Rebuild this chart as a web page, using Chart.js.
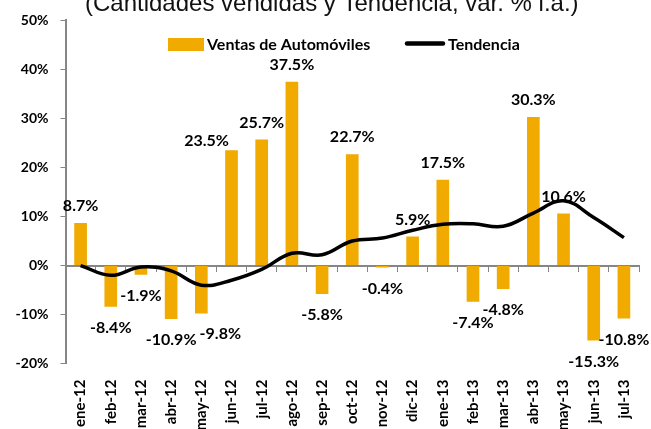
<!DOCTYPE html>
<html>
<head>
<meta charset="utf-8">
<script src="https://cdn.jsdelivr.net/npm/chart.js@4.4.1/dist/chart.umd.min.js"></script>
<style>
  html, body { margin: 0; padding: 0; background: #fff; }
  #wrap { width: 651px; height: 429px; position: relative; }
</style>
</head>
<body>
<div id="wrap"><canvas id="myChart"></canvas></div>
<script>
// datos
const meses = ["ene-12", "feb-12", "mar-12", "abr-12", "may-12", "jun-12", "jul-12", "ago-12", "sep-12", "oct-12",
    "nov-12", "dic-12", "ene-13", "feb-13", "mar-13", "abr-13", "may-13", "jun-13", "jul-13"];
const ventas = [8.7, -8.4, -1.9, -10.9, -9.8, 23.5, 25.7, 37.5, -5.8, 22.7, -0.4, 5.9, 17.5, -7.4, -4.8, 30.3, 10.6, -15.3, -10.8];
const tendencia = [0.0, -2.0, -0.3, -1.1, -4.0, -3.0, -0.8, 2.5, 2.2, 5.0, 5.6, 7.2, 8.4, 8.5, 8.0, 10.7, 13.2, 9.8, 5.7];
const yTicks = [-20, -10, 0, 10, 20, 30, 40, 50];

const naranja = '#F0AA00';
const gris = '#868686';

// pequeños ajustes de posicion de etiquetas (como en el original)
const ajustes = { 4: [19, -1], 5: [-25, 8] };

const titulo = {
    id: 'titulo',
    afterDraw(chart) {
        const ctx = chart.ctx;
        ctx.save();
        ctx.font = '24px "Liberation Sans", Arial, sans-serif';
        ctx.fillStyle = '#111';
        ctx.textAlign = 'left';
        ctx.textBaseline = 'alphabetic';
        ctx.fillText('(Cantidades vendidas y Tendencia, var. % i.a.)', 85, 11);
        ctx.restore();
    }
};

const leyenda = {
    id: 'leyenda',
    afterDraw(chart) {
        const ctx = chart.ctx;
        ctx.save();
        ctx.fillStyle = naranja;
        ctx.fillRect(168, 38, 36, 13);
        ctx.strokeStyle = '#000';
        ctx.lineWidth = 4.5;
        ctx.lineCap = 'round';
        ctx.beginPath();
        ctx.moveTo(407, 43.5);
        ctx.lineTo(443, 43.5);
        ctx.stroke();
        ctx.font = 'bold 16px Lato';
        ctx.fillStyle = '#000';
        ctx.textBaseline = 'middle';
        ctx.fillText(chart.data.datasets[0].label, 207, 44.5);
        ctx.fillText(chart.data.datasets[1].label, 448, 44.5);
        ctx.restore();
    }
};

const etiquetas = {
    id: 'etiquetas',
    afterDatasetsDraw(chart) {
        const meta = chart.getDatasetMeta(0);
        const ctx = chart.ctx;
        ctx.save();
        ctx.font = 'bold 16px Lato';
        ctx.fillStyle = '#000';
        ctx.textAlign = 'center';
        ctx.textBaseline = 'middle';
        meta.data.forEach((bar, i) => {
            const v = ventas[i];
            const n = ajustes[i] || [0, 0];
            const y = v >= 0 ? bar.y - 17 : bar.y + 21;
            ctx.fillText(v.toFixed(1) + '%', bar.x + n[0], y + n[1]);
        });
        ctx.restore();
    }
};

const ctx = document.getElementById('myChart');
new Chart(ctx, {
    data: {
        labels: meses,
        datasets: [
            {
                type: 'bar',
                label: 'Ventas de Automóviles',
                data: ventas,
                backgroundColor: naranja,
                barPercentage: 0.42,
                categoryPercentage: 1,
                order: 1
            },
            {
                type: 'line',
                label: 'Tendencia',
                data: tendencia,
                borderColor: '#000',
                borderWidth: 3.5,
                pointRadius: 0,
                tension: 0.4,
                fill: false,
                order: 0
            }
        ]
    },
    options: {
        responsive: true,
        maintainAspectRatio: false,
        animation: false,
        layout: { padding: { top: 18.5, right: 12, left: 0, bottom: 0 } },
        plugins: {
            legend: { display: false },
            title: { display: false },
            tooltip: { enabled: false }
        },
        scales: {
            x: {
                type: 'category',
                offset: true,
                grid: { display: false },
                border: { display: false },
                ticks: {
                    color: '#000',
                    font: { family: 'Lato', size: 15, weight: 'bold' },
                    minRotation: 90,
                    maxRotation: 90,
                    autoSkip: false,
                    padding: 8
                },
                afterFit(scale) { scale.height = 65.4; }
            },
            x2: {
                type: 'category',
                axis: 'x',
                labels: meses,
                position: { y: 0 },
                offset: true,
                grid: { offset: true, drawOnChartArea: false, tickLength: 5, color: gris, lineWidth: 1 },
                border: { color: gris, width: 2 },
                ticks: { display: false }
            },
            y: {
                min: -20,
                max: 50,
                afterBuildTicks(scale) { scale.ticks = yTicks.map(v => ({ value: v })); },
                grid: { drawOnChartArea: false, tickLength: 5, tickColor: gris, color: gris },
                border: { color: gris, width: 2 },
                ticks: {
                    color: '#000',
                    font: { family: 'Lato', size: 14, weight: 'bold' },
                    padding: 12,
                    callback: v => v + '%'
                },
                afterFit(scale) { scale.width = 65.5; }
            }
        }
    },
    plugins: [etiquetas, titulo, leyenda]
});
</script>
</body>
</html>
